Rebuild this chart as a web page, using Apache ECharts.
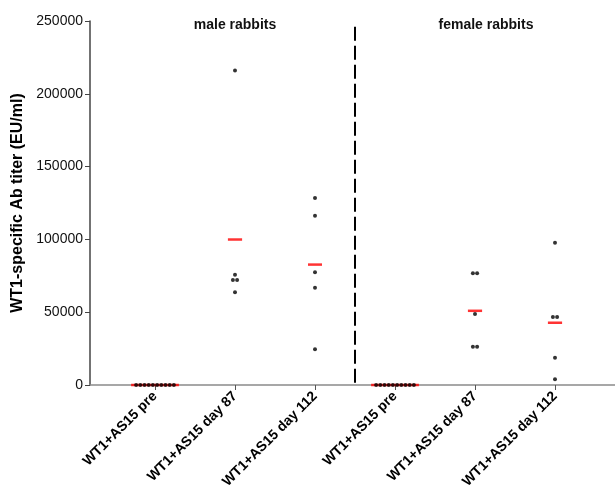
<!DOCTYPE html>
<html>
<head>
<meta charset="utf-8">
<script src="https://cdn.jsdelivr.net/npm/echarts@6/dist/echarts.min.js"></script>
<style>
html,body{margin:0;padding:0;background:#fff;}
#chart{width:615px;height:493px;}
</style>
</head>
<body>
<div id="chart"></div>
<script>
// ---- data ----
const categories = ['WT1+AS15 pre', 'WT1+AS15 day 87', 'WT1+AS15 day 112',
                    'WT1+AS15 pre', 'WT1+AS15 day 87', 'WT1+AS15 day 112'];
const malePre   = [0, 0, 0, 0, 0, 0, 0, 0, 0, 0];
const maleD87   = [216000, 75700, 72100, 72100, 63700];
const maleD112  = [128500, 116300, 77400, 66800, 24500];
const femalePre = [0, 0, 0, 0, 0, 0, 0, 0, 0, 0];
const femaleD87 = [76700, 76700, 48800, 26300, 26300];
const femaleD112 = [97700, 46700, 46700, 18800, 3900];
const groupTitles = ['male rabbits', 'female rabbits'];
const yTicks = [0, 50000, 100000, 150000, 200000, 250000];

const groups = [malePre, maleD87, maleD112, femalePre, femaleD87, femaleD112];

// ---- layout (beeswarm offsets for equal values) ----
const PX_PER_UNIT = 80;
const DOT_STEP_PX = 4.2;
const step = DOT_STEP_PX / PX_PER_UNIT;
const dots = [];
const means = [];
groups.forEach((vals, gi) => {
  const xc = gi + 1;
  const counts = {};
  vals.forEach(v => counts[v] = (counts[v] || 0) + 1);
  const seen = {};
  let maxN = 1;
  vals.forEach(v => {
    const n = counts[v];
    maxN = Math.max(maxN, n);
    const i = (seen[v] = (seen[v] || 0) + 1) - 1;
    dots.push([xc + (i - (n - 1) / 2) * step, v]);
  });
  const m = vals.reduce((a, b) => a + b, 0) / vals.length;
  const w = (maxN - 1) * DOT_STEP_PX + 10;
  means.push({ value: [xc, m], symbolSize: [Math.max(14, w), 2.5] });
});

const chart = echarts.init(document.getElementById('chart'));
const font = '"Liberation Sans", Arial, sans-serif';
chart.setOption({
  animation: false,
  backgroundColor: '#fff',
  title: [
    { text: groupTitles[0], left: 230, top: 13, textAlign: 'center',
      textStyle: { fontFamily: font, fontSize: 14, fontWeight: 'bold', color: '#111' } },
    { text: groupTitles[1], left: 481, top: 13, textAlign: 'center',
      textStyle: { fontFamily: font, fontSize: 14, fontWeight: 'bold', color: '#111' } }
  ],
  grid: { left: 90, right: 0, top: 21, bottom: 108 },
  xAxis: {
    type: 'value',
    min: 0.1875,
    max: 6.75,
    splitLine: { show: false },
    axisLine: { lineStyle: { color: '#8a8a8a', width: 1.5 } },
    axisTick: { show: true, length: 5, inside: false, customValues: [1, 2, 3, 4, 5, 6],
      lineStyle: { color: '#555' } },
    axisLabel: {
      customValues: [1, 2, 3, 4, 5, 6],
      rotate: 45,
      margin: 9,
      fontFamily: font, fontSize: 14, fontWeight: 'bold', color: '#000',
      formatter: v => categories[Math.round(v) - 1] || ''
    }
  },
  yAxis: {
    type: 'value',
    min: yTicks[0], max: yTicks[yTicks.length - 1], interval: yTicks[1] - yTicks[0],
    name: 'WT1-specific Ab titer (EU/ml)',
    nameLocation: 'middle',
    nameGap: 62,
    nameTextStyle: { fontFamily: font, fontSize: 16, fontWeight: 'bold', color: '#000' },
    splitLine: { show: false },
    axisLine: { show: true, lineStyle: { color: '#444', width: 1.5 } },
    axisTick: { show: true, length: 5, lineStyle: { color: '#444' } },
    axisLabel: { fontFamily: font, fontSize: 14, color: '#111', margin: 7,
      formatter: v => String(v) }
  },
  series: [
    {
      type: 'scatter',
      data: dots,
      symbol: 'circle',
      symbolSize: 4,
      itemStyle: { color: '#000' },
      z: 3,
      markLine: {
        silent: true,
        symbol: ['none', 'none'],
        label: { show: false },
        lineStyle: { color: '#000', type: [14, 5], width: 2 },
        data: [[{ coord: [3.5, 246000] }, { coord: [3.5, 0] }]]
      }
    },
    {
      type: 'scatter',
      data: means,
      symbol: 'rect',
      itemStyle: { color: '#ff0000' },
      z: 2
    }
  ]
});
</script>
</body>
</html>
